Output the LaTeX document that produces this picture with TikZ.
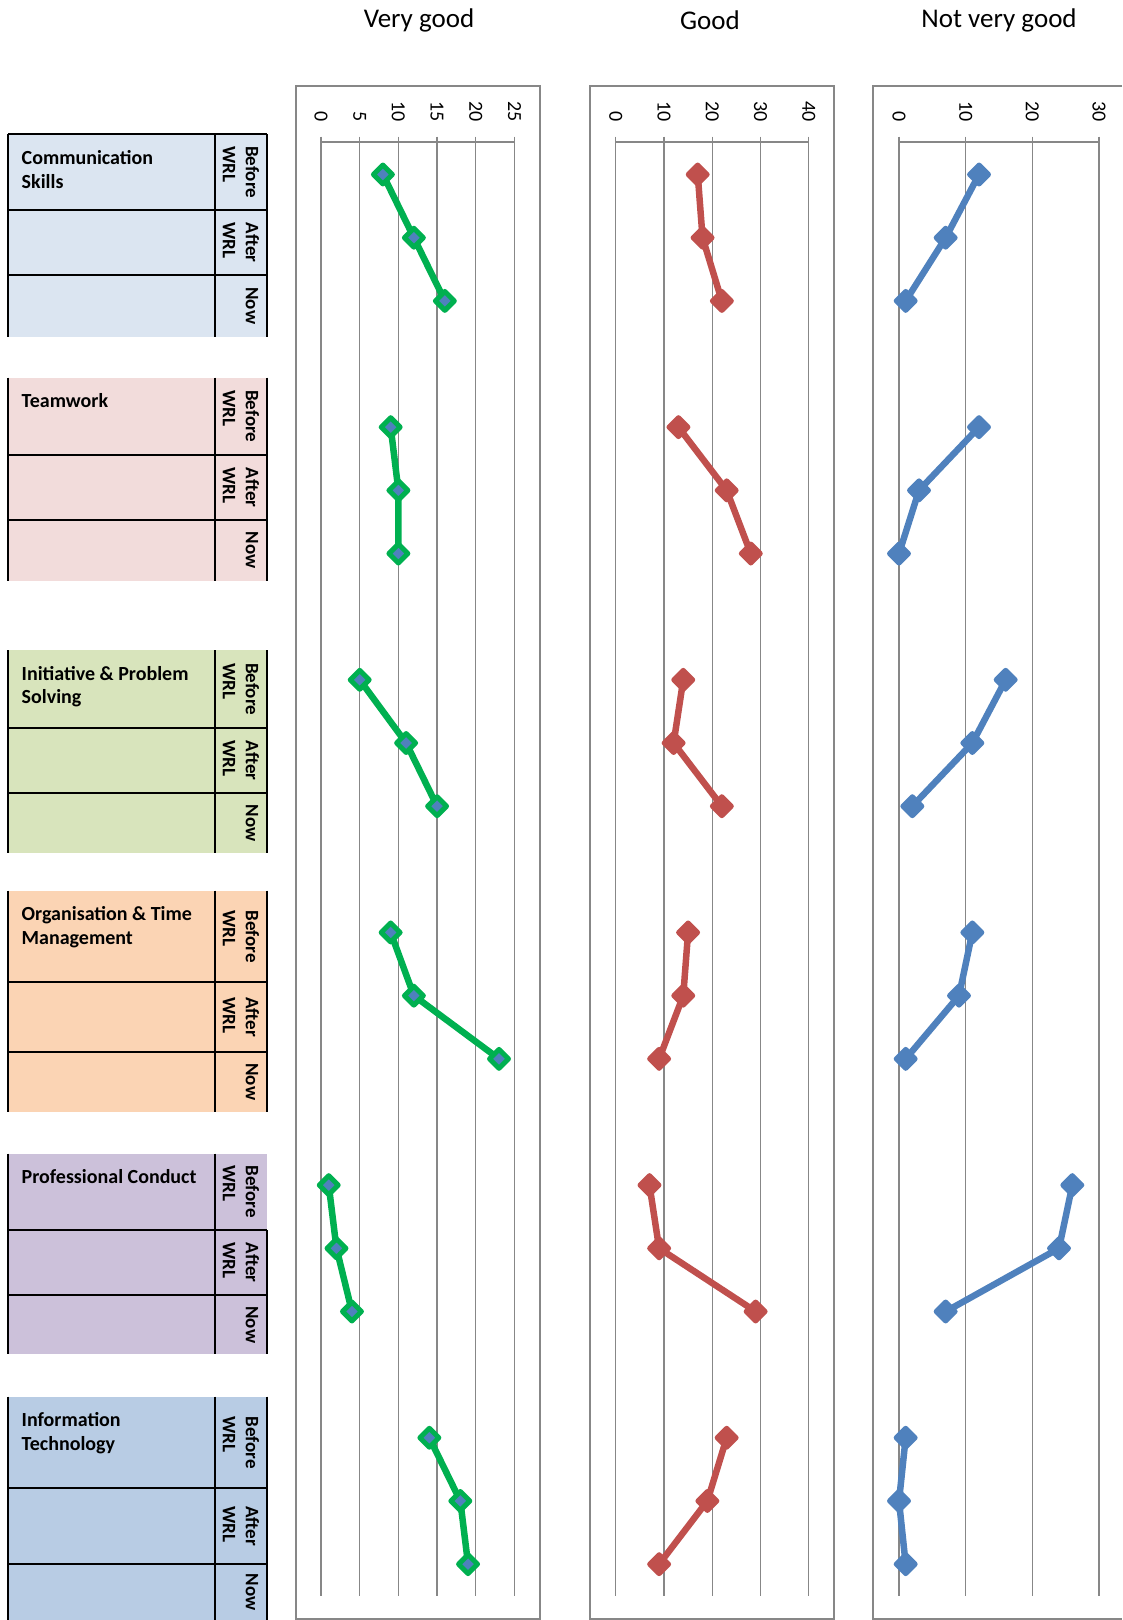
\documentclass[tikz,border=0pt]{standalone}
\usepackage{fontspec}
\setmainfont{Carlito}
\usetikzlibrary{shapes.geometric}
\definecolor{gridgray}{HTML}{878787}
\definecolor{vgreen}{HTML}{00B050}
\definecolor{gred}{HTML}{C0504D}
\definecolor{nblue}{HTML}{4F81BD}
\definecolor{cComm}{HTML}{DBE5F1}
\definecolor{cTeam}{HTML}{F2DCDB}
\definecolor{cInit}{HTML}{D8E4BC}
\definecolor{cOrg}{HTML}{FBD4B4}
\definecolor{cProf}{HTML}{CCC1DA}
\definecolor{cIT}{HTML}{B8CCE4}
% #1 top, #2 first divider, #3 second divider, #4 bottom, #5 colour, #6 name, #7 label, #8 start of right border
\newcommand\tblock[8]{%
  \fill[#5] (8.3,#1) rectangle (266.7,#4);
  \draw[tborder] (8.3,#1) -- (8.3,#4);
  \draw[tborder] (215,#1) -- (215,#4);
  \draw[tborder] (266.7,#8) -- (266.7,#4);
  \draw[tborder] (8.3,#2) -- (266.7,#2);
  \draw[tborder] (8.3,#3) -- (266.7,#3);
  \node[grouplabel] (#6-label) at (21.5,{#1+13.5}) {\rule{0pt}{16.5pt}#7};
  \node[phaselabel] (#6-before) at (262,{(#1+#2)/2}) {\rule{0pt}{16pt}Before\\WRL};
  \node[phaselabel] (#6-after) at (262,{(#2+#3)/2}) {\rule{0pt}{16pt}After\\WRL};
  \node[phaselabel] (#6-now) at (262,{(#3+#4)/2}) {\rule{0pt}{16pt}Now};
}
% #1 name, #2 x of zero, #3 px per unit, #4 group index, #5-#7 values, #8 line colour, #9 marker fill
\newcommand\plotgroup[9]{%
  \coordinate (#1-1) at ({#2+#3*#5},{174.5+252.65*#4});
  \coordinate (#1-2) at ({#2+#3*#6},{174.5+252.65*#4+63.2});
  \coordinate (#1-3) at ({#2+#3*#7},{174.5+252.65*#4+126.4});
  \draw[series,draw=#8] (#1-1) -- (#1-2) -- (#1-3);
  \node[marker,draw=#8,fill=#9] (#1-m1) at (#1-1) {};
  \node[marker,draw=#8,fill=#9] (#1-m2) at (#1-2) {};
  \node[marker,draw=#8,fill=#9] (#1-m3) at (#1-3) {};
}
\begin{document}
\begin{tikzpicture}[x=1pt,y=-1pt,
  tborder/.style={draw=black, line width=2.2pt},
  frame/.style={draw=gridgray, line width=1.5pt},
  gridline/.style={draw=gridgray, line width=1.3pt},
  ticklabel/.style={rotate=-90, anchor=east, inner sep=0pt, font=\fontsize{20}{24}\selectfont},
  title/.style={anchor=base, inner sep=0pt, font=\fontsize{27}{32}\selectfont},
  grouplabel/.style={anchor=north west, inner sep=0pt, align=left, font=\bfseries\fontsize{20}{23.5}\selectfont},
  phaselabel/.style={rotate=-90, anchor=north, inner sep=0pt, align=left, font=\bfseries\fontsize{19}{23}\selectfont},
  series/.style={line width=6.5pt, line join=round},
  marker/.style={diamond, minimum width=21pt, minimum height=21pt, inner sep=0pt, line width=5pt, line join=round},
]
\useasboundingbox (0,0) rectangle (1122,1620);

% ---------- left table ----------
\tblock{134.3}{210}{275}{336.7}{cComm}{comm}{Communication\\Skills}{134.3}
\draw[tborder] (8.3,134.3) -- (266.7,134.3);
\tblock{377.7}{455}{520}{580.7}{cTeam}{team}{Teamwork}{377.7}
\tblock{650}{728.3}{792.7}{853.3}{cInit}{init}{Initiative \& Problem\\Solving}{650}
\tblock{890.7}{982.3}{1051.7}{1111.7}{cOrg}{org}{Organisation \& Time\\Management}{890.7}
\tblock{1153.5}{1230}{1295}{1354.4}{cProf}{prof}{Professional Conduct}{1230}
\tblock{1396.7}{1488.3}{1564.3}{1620}{cIT}{it}{Information\\Technology}{1396.7}

% ---------- titles ----------
\node[title] (t-vg) at (419,27) {Very good};
\node[title] (t-g) at (710,29) {Good};
\node[title] (t-nvg) at (999,27) {Not very good};

% ---------- Very good chart ----------
\draw[frame] (296,86) rectangle (540,1619);
\foreach \v in {0,5,10,15,20,25} {
  \draw[gridline] ({321+7.74*\v},136.7) -- ({321+7.74*\v},1595.7);
  \node[ticklabel] (vg-tick-\v) at ({321+7.74*\v},121.7) {\v};
}
\draw[gridline] (321,142) -- (514.5,142);

% ---------- Good chart ----------
\draw[frame] (590,86) rectangle (834,1619);
\foreach \v in {0,10,20,30,40} {
  \draw[gridline] ({615.7+4.825*\v},136.7) -- ({615.7+4.825*\v},1595.7);
  \node[ticklabel] (g-tick-\v) at ({615.7+4.825*\v},121.7) {\v};
}
\draw[gridline] (615.7,142) -- (808.7,142);

% ---------- Not very good chart ----------
\draw[frame] (1122,86) -- (873,86) -- (873,1619) -- (1122,1619);
\foreach \v in {0,10,20,30} {
  \draw[gridline] ({899+6.667*\v},136.7) -- ({899+6.667*\v},1595.7);
  \node[ticklabel] (n-tick-\v) at ({899+6.667*\v},121.7) {\v};
}
\draw[gridline] (899,142) -- (1099,142);

% ---------- series: Very good ----------
\plotgroup{vg0}{321}{7.74}{0}{8}{12}{16}{vgreen}{nblue}
\plotgroup{vg1}{321}{7.74}{1}{9}{10}{10}{vgreen}{nblue}
\plotgroup{vg2}{321}{7.74}{2}{5}{11}{15}{vgreen}{nblue}
\plotgroup{vg3}{321}{7.74}{3}{9}{12}{23}{vgreen}{nblue}
\plotgroup{vg4}{321}{7.74}{4}{1}{2}{4}{vgreen}{nblue}
\plotgroup{vg5}{321}{7.74}{5}{14}{18}{19}{vgreen}{nblue}

% ---------- series: Good ----------
\plotgroup{g0}{615.7}{4.825}{0}{17}{18}{22}{gred}{gred}
\plotgroup{g1}{615.7}{4.825}{1}{13}{23}{28}{gred}{gred}
\plotgroup{g2}{615.7}{4.825}{2}{14}{12}{22}{gred}{gred}
\plotgroup{g3}{615.7}{4.825}{3}{15}{14}{9}{gred}{gred}
\plotgroup{g4}{615.7}{4.825}{4}{7}{9}{29}{gred}{gred}
\plotgroup{g5}{615.7}{4.825}{5}{23}{19}{9}{gred}{gred}

% ---------- series: Not very good ----------
\plotgroup{n0}{899}{6.667}{0}{12}{7}{1}{nblue}{nblue}
\plotgroup{n1}{899}{6.667}{1}{12}{3}{0}{nblue}{nblue}
\plotgroup{n2}{899}{6.667}{2}{16}{11}{2}{nblue}{nblue}
\plotgroup{n3}{899}{6.667}{3}{11}{9}{1}{nblue}{nblue}
\plotgroup{n4}{899}{6.667}{4}{26}{24}{7}{nblue}{nblue}
\plotgroup{n5}{899}{6.667}{5}{1}{0}{1}{nblue}{nblue}
\end{tikzpicture}
\end{document}
